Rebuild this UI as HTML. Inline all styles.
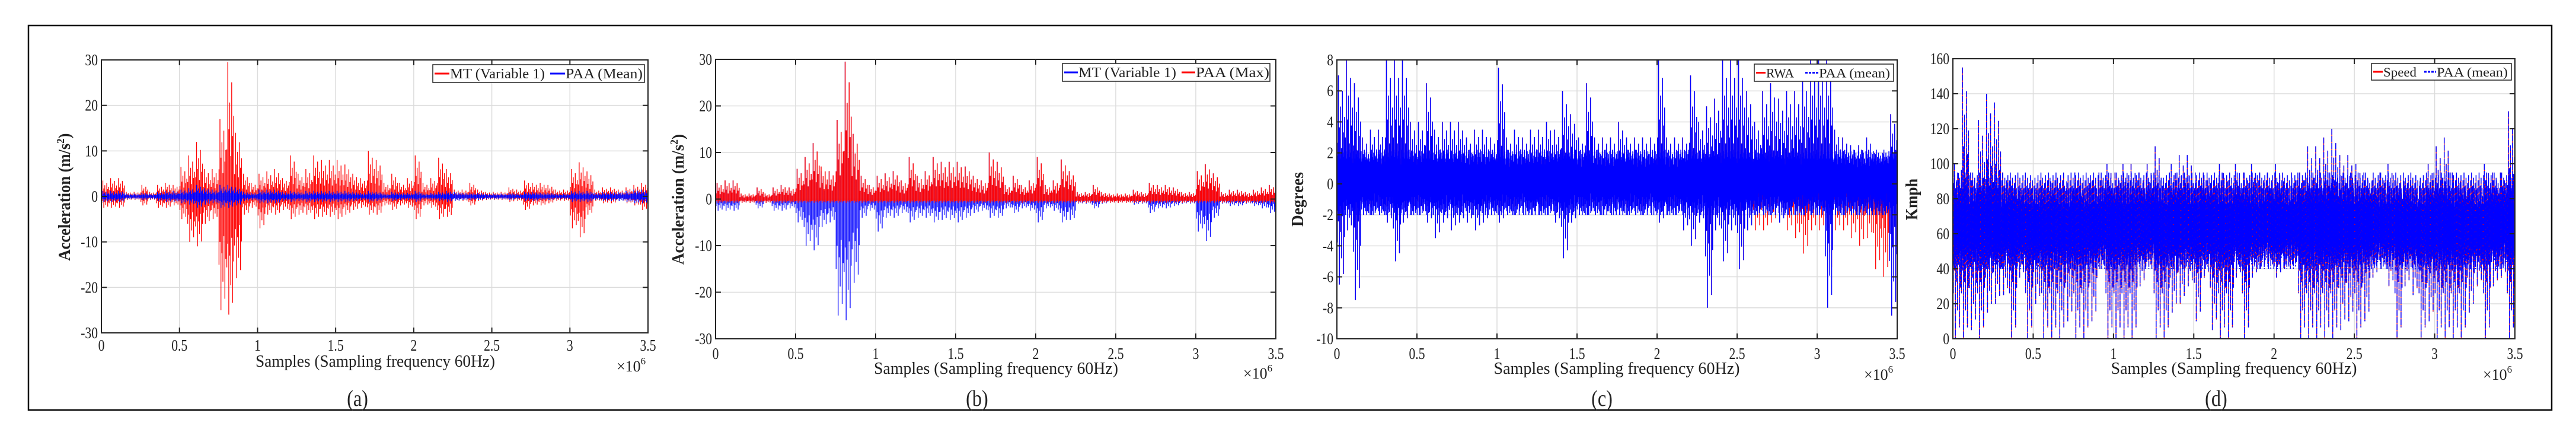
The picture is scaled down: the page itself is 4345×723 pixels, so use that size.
<!DOCTYPE html>
<html><head><meta charset="utf-8"><style>
html,body{margin:0;padding:0;background:#fff;}
svg{display:block;}
text{font-family:"Liberation Serif",serif;fill:#222;}
</style></head><body>
<svg id="fig" width="4345" height="723" viewBox="0 0 4345 723" xmlns="http://www.w3.org/2000/svg">
<rect x="48" y="43" width="4256" height="648" fill="none" stroke="#000" stroke-width="2.5"/>
</svg>
<script>
// ---- data (bins of 0.05e6 samples, 0..3.5e6) ----
const mtHi=[3.5,4,4,1,1,2.5,1,2.5,3,2.5,6.5,9,12,6,6,17,29.5,14,5,3,5,5.5,6,4,9,5,6,9,8,8,8,7,5,4,10,8,3,5,3,4,9,3,4,8.5,6,1.5,1.5,3,1.5,1,1,1,2,1.5,3.5,3,3,2.5,1.5,1.5,6,7.5,5.5,1.5,2,2,1.5,2,2.5,3];
const mtLo=[-2.5,-2.5,-2.5,-0.8,-0.8,-2,-0.8,-2.5,-2.5,-2,-5,-10,-11,-6,-5,-25,-26,-18,-4,-2.5,-7,-4,-4,-3,-5,-4,-4,-5,-4.5,-4.5,-5,-4,-3,-2.5,-4,-4,-2,-3,-2,-2.5,-5,-2,-2.5,-5,-4.5,-1,-1,-2,-1,-0.8,-0.8,-0.8,-1.2,-1,-3,-2,-2,-1.5,-1,-1,-7,-9,-4,-1,-1.5,-1.5,-1,-1.5,-2,-3];
const paaMeanAmp=[1.2,1.2,1.2,0.6,0.6,0.8,0.6,1,1.2,1.2,1.5,1.8,2.5,1.8,1.5,2.5,2.5,2,1,0.8,1.5,1.5,1.5,1,1.2,1,1.2,1.2,1.2,1.2,1.2,1.2,1,0.8,1.2,1,0.6,1,0.8,0.8,1.2,0.6,0.8,1,1.2,1,0.8,0.8,0.8,0.6,0.6,0.6,0.8,0.6,1,1,0.8,0.8,0.6,0.6,1.2,1.2,1.2,0.8,1,1,1,1.2,1.5,1.5];
const paaMaxHi=[3.5,4,4,1.2,1.2,2.5,1.2,2.5,3,2.5,6.5,9,12,7,6,17,29.5,14,5,3,5,5.5,6,4,9,5,6,9,8,8,8,7,5,4,10,8,3,5,3,4,9,3,4,8.5,6,1.5,1.5,3,1.5,1.2,1.2,1.2,2,1.5,3.5,3,3,2.5,1.5,1.5,6,7.5,5.5,1.5,2,2,1.5,2,2.5,3];
const rwaHi=[7,8,6.5,3,3.5,3.5,8,8,8,4,4,6.5,3.5,4,4,4,3,3.5,3.5,3,7.5,3,3.5,3,3.5,3.5,4,3.5,6,4.5,3,6.5,3,3,3,4,3,3,3,3,8,3,3,3,7,4,5,5.5,8,8,8,6,4,6,6.5,5.5,6,6,7,8,8,8,3.5,3,2.5,2.5,3,2,2,4.5];
const rwaLo=[-6.5,-3,-7.5,-2,-2,-2,-2.5,-5,-2.5,-2,-2,-2.5,-3.5,-2.5,-3,-2.5,-2.5,-3,-2.5,-2,-2.5,-2,-2,-2,-2,-2,-2,-2.5,-4.8,-2.5,-2,-2,-2,-2,-2,-2,-2,-2,-2,-2,-2.5,-2,-2,-3,-4,-2.5,-8,-3,-5,-3,-5.5,-3,-2,-2,-2,-2.5,-2,-2,-2,-2,-2,-8,-2,-2,-2,-2,-2,-2,-2,-8.5];
const rwaRedLo=[-6.5,-3,-7.5,-2,-2,-2,-2.5,-5,-2.5,-2,-2,-2.5,-3.5,-2.5,-3,-2.5,-2.5,-3,-2.5,-2,-2.5,-2,-2,-2,-2,-2,-2,-2.5,-4.8,-2.5,-2,-2,-2,-2,-2,-2,-2,-2,-2,-2,-2.5,-2,-2,-3,-4,-2.5,-8,-3,-5,-3,-5.5,-3,-3,-3,-2.5,-2.5,-3,-3.5,-4.5,-3,-3,-6,-3,-3,-3.5,-4,-3.5,-5.5,-6,-8.5];
const speedHi=[100,155,95,125,140,135,95,90,85,80,85,80,90,85,90,95,80,90,95,100,95,100,100,95,100,110,90,100,105,105,95,95,90,100,90,100,95,100,95,95,100,90,95,95,110,110,115,120,105,105,100,95,90,95,100,90,90,85,90,100,110,115,95,90,85,85,100,95,95,130];
const speedLo=[0,0,5,0,15,20,25,0,35,0,20,0,0,0,10,0,0,10,40,0,0,0,0,30,45,0,0,15,20,30,10,35,5,0,0,35,0,35,40,40,35,40,45,0,0,0,0,0,5,10,0,10,35,40,30,0,30,25,0,10,0,0,0,0,15,30,0,30,35,0];
const xTicks=[0,0.5,1,1.5,2,2.5,3,3.5];
const xTickLabels=["0","0.5","1","1.5","2","2.5","3","3.5"];
const yTicksAcc=[-30,-20,-10,0,10,20,30];
const yTicksDeg=[-10,-8,-6,-4,-2,0,2,4,6,8];
const yTicksKmph=[0,20,40,60,80,100,120,140,160];

const NS="http://www.w3.org/2000/svg";
const svg=document.getElementById('fig');
function mk(tag,attrs,parent){const e=document.createElementNS(NS,tag);for(const k in attrs)e.setAttribute(k,attrs[k]);(parent||svg).appendChild(e);return e;}
const P=[0.35,1,0.5,0.7,0.3,0.85,0.45,0.6];
const Q=[0.6,0.4,1,0.5,0.75,0.35,0.9,0.55];
const P2=[0.55,0.8,0.4,0.95,0.6,0.7,0.35,0.85,0.5,1,0.45,0.75,0.65,0.9,0.4,0.7];
const Q2=[0.8,0.45,0.9,0.6,1,0.5,0.75,0.4,0.95,0.55,0.85,0.65,0.5,0.7,1,0.6];

function panel(cfg){
  const g=mk('g',{});
  
  
  const L=cfg.l,R=cfg.r,T=cfg.t,B=cfg.b;
  const sx=v=>L+(v/3.5)*(R-L);
  const sy=v=>B-(v-cfg.ymin)/(cfg.ymax-cfg.ymin)*(B-T);
  mk('rect',{x:L,y:T,width:R-L,height:B-T,fill:'#fff'},g);
  const grid=mk('g',{},g);
  
  
  xTicks.forEach(v=>mk('line',{x1:sx(v),x2:sx(v),y1:T,y2:B,stroke:'#dcdcdc','stroke-width':1.5},grid));
  cfg.yt.forEach(v=>mk('line',{x1:L,x2:R,y1:sy(v),y2:sy(v),stroke:'#dcdcdc','stroke-width':1.5},grid));
  const clipId='clip'+cfg.name;
  const cp=mk('clipPath',{id:clipId},g);mk('rect',{x:L,y:T,width:R-L,height:B-T},cp);
  const plot=mk('g',{'clip-path':'url(#'+clipId+')'},g);
  cfg.series.forEach(s=>{
    let d='';const n=s.hi.length;const bw=3.5/n;
    for(let i=0;i<n;i++){
      for(let k=0;k<8;k++){
        const xv=(i+(k+0.5)/8)*bw;
        const hi=cfg.c+(s.hi[i]-cfg.c)*P[k];
        const lo=cfg.c+(s.lo[i]-cfg.c)*Q[k];
        d+='M'+sx(xv).toFixed(1)+' '+sy(hi).toFixed(1)+'V'+sy(lo).toFixed(1);
      }
      if(s.core){
        for(let k=0;k<16;k++){
          const xv=(i+(k+0.5)/16)*bw;
          const hi=cfg.c+(s.core[1]-cfg.c)*P2[(k+i)%16];
          const lo=cfg.c+(s.core[0]-cfg.c)*Q2[(k+3*i)%16];
          d+='M'+sx(xv).toFixed(1)+' '+sy(hi).toFixed(1)+'V'+sy(lo).toFixed(1);
        }
      }
    }
    const p=mk('path',{d:d,stroke:s.color,'stroke-width':s.w||1.3,fill:'none'},plot);
    if(s.dash)p.setAttribute('stroke-dasharray',s.dash);
    
    
  });
  mk('rect',{x:L,y:T,width:R-L,height:B-T,fill:'none',stroke:'#222','stroke-width':2},g);
  xTicks.forEach((v,i)=>{
    mk('line',{x1:sx(v),x2:sx(v),y1:B,y2:B-9,stroke:'#222','stroke-width':2},g);
    mk('line',{x1:sx(v),x2:sx(v),y1:T,y2:T+9,stroke:'#222','stroke-width':2},g);
    const t=mk('text',{x:sx(v)/0.8,y:cfg.tickY,'text-anchor':'middle','font-size':27,transform:'scale(0.8,1)'},g);
    t.textContent=xTickLabels[i];
    
    
  });
  cfg.yt.forEach(v=>{
    mk('line',{x1:L,x2:L+9,y1:sy(v),y2:sy(v),stroke:'#222','stroke-width':2},g);
    mk('line',{x1:R,x2:R-9,y1:sy(v),y2:sy(v),stroke:'#222','stroke-width':2},g);
    const t=mk('text',{x:(L-6)/0.8,y:sy(v)+9,'text-anchor':'end','font-size':27,transform:'scale(0.8,1)'},g);
    t.textContent=String(v);
    
    
  });
  const xl=mk('text',{x:cfg.xlx,y:cfg.xly,'text-anchor':'middle','font-size':28,textLength:cfg.xlw,lengthAdjust:'spacingAndGlyphs'},g);
  xl.textContent='Samples (Sampling frequency 60Hz)';
  
  
  const ex=mk('text',{x:cfg.exx,y:cfg.exy,'font-size':26},g);
  ex.innerHTML='×10<tspan dy="-12" font-size="17">6</tspan>';
  
  
  const yl=mk('text',{x:0,y:0,'text-anchor':'middle','font-size':28,'font-weight':'bold',transform:'translate('+(cfg.ylx+10)+','+cfg.yly+') rotate(-90)',textLength:cfg.ylw,lengthAdjust:'spacingAndGlyphs'},g);
  yl.innerHTML=cfg.ylab;
  
  
  const cap=mk('text',{x:cfg.capx/0.85,y:684,'text-anchor':'middle','font-size':38,transform:'scale(0.85,1)'},g);
  cap.textContent=cfg.cap;
  
  
  const lg=mk('g',{},g);
  
  
  const [lx1,ly1,lx2,ly2]=cfg.leg;
  mk('rect',{x:lx1,y:ly1,width:lx2-lx1,height:ly2-ly1,fill:'#fff',stroke:'#222','stroke-width':1.5},lg);
  const my=(ly1+ly2)/2;
  cfg.legItems.forEach(it=>{
    const ln=mk('line',{x1:it.x,x2:it.x+it.lw,y1:my,y2:my,stroke:it.color,'stroke-width':3},lg);
    if(it.dash)ln.setAttribute('stroke-dasharray','4,2');
    
    
    const t=mk('text',{x:it.x+it.lw+1,y:my+8,'font-size':cfg.legFs||24,textLength:it.tw,lengthAdjust:'spacingAndGlyphs'},lg);
    t.textContent=it.label;
    
    
  });
}

panel({name:'panel-a',l:171,r:1093,t:101,b:561,ymin:-30,ymax:30,c:0,yt:yTicksAcc,tickY:591,
  series:[{id:'mt-variable-1-series',hi:mtHi,lo:mtLo,color:'#ff0000'},
          {id:'paa-mean-series',hi:paaMeanAmp,lo:paaMeanAmp.map(v=>-v),color:'#0000ff',w:1.5}],
  xlx:633,xly:618,xlw:404,exx:1040,exy:626,ylx:108,yly:332,ylw:215,ylab:'Acceleration (m/s<tspan dy="-10" font-size="18">2</tspan><tspan dy="10">)</tspan>',
  capx:603,cap:'(a)',leg:[730,109,1087,139],
  legItems:[{x:733,lw:25,color:'#ff0000',label:'MT (Variable 1)',tw:160},{x:928,lw:25,color:'#0000ff',label:'PAA (Mean)',tw:130}]});
panel({name:'panel-b',l:1207,r:2152,t:100,b:571,ymin:-30,ymax:30,c:0,yt:yTicksAcc,tickY:605,
  series:[{id:'mt-variable-1-series',hi:mtHi,lo:mtLo,color:'#0000ff'},
          {id:'paa-max-series',hi:paaMaxHi,lo:paaMaxHi.map(v=>-0.8),color:'#ff0000',w:1.5}],
  xlx:1680,xly:630,xlw:412,exx:2097,exy:638,ylx:1143,yly:336,ylw:220,ylab:'Acceleration (m/s<tspan dy="-10" font-size="18">2</tspan><tspan dy="10">)</tspan>',
  capx:1648,cap:'(b)',leg:[1792,107,2142,137],
  legItems:[{x:1795,lw:23,color:'#0000ff',label:'MT (Variable 1)',tw:165},{x:1993,lw:23,color:'#ff0000',label:'PAA (Max)',tw:124}]});
panel({name:'panel-c',l:2255,r:3200,t:101,b:571,ymin:-10,ymax:8,c:0.3,yt:yTicksDeg,tickY:605,
  series:[{id:'rwa-series',hi:rwaHi,lo:rwaRedLo,color:'#ff0000',core:[-1.5,1.8]},
          {id:'paa-mean-series',hi:rwaHi,lo:rwaLo,color:'#0000ff',w:1.5,core:[-2,2.2]}],
  xlx:2727,xly:630,xlw:415,exx:3144,exy:640,ylx:2188,yly:336,ylw:92,ylab:'Degrees',
  capx:2702,cap:'(c)',leg:[2959,108,3194,137],legFs:22,
  legItems:[{x:2962,lw:16,color:'#ff0000',label:'RWA',tw:47},{x:3045,lw:22,color:'#0000ff',dash:true,label:'PAA (mean)',tw:120}]});
panel({name:'panel-d',l:3294,r:4242,t:99,b:571,ymin:0,ymax:160,c:65,yt:yTicksKmph,tickY:605,
  series:[{id:'speed-series',hi:speedHi,lo:speedLo,color:'#ff0000',core:[42,92]},
          {id:'paa-mean-series',hi:speedHi,lo:speedLo,color:'#0000ff',dash:'10,2',w:1.5,core:[40,95]}],
  xlx:3768,xly:630,xlw:415,exx:4188,exy:640,ylx:3224,yly:336,ylw:70,ylab:'Kmph',
  capx:3738,cap:'(d)',leg:[4000,107,4236,135],legFs:22,
  legItems:[{x:4003,lw:16,color:'#ff0000',label:'Speed',tw:56},{x:4089,lw:20,color:'#0000ff',dash:true,label:'PAA (mean)',tw:120}]});
</script>
</body></html>
